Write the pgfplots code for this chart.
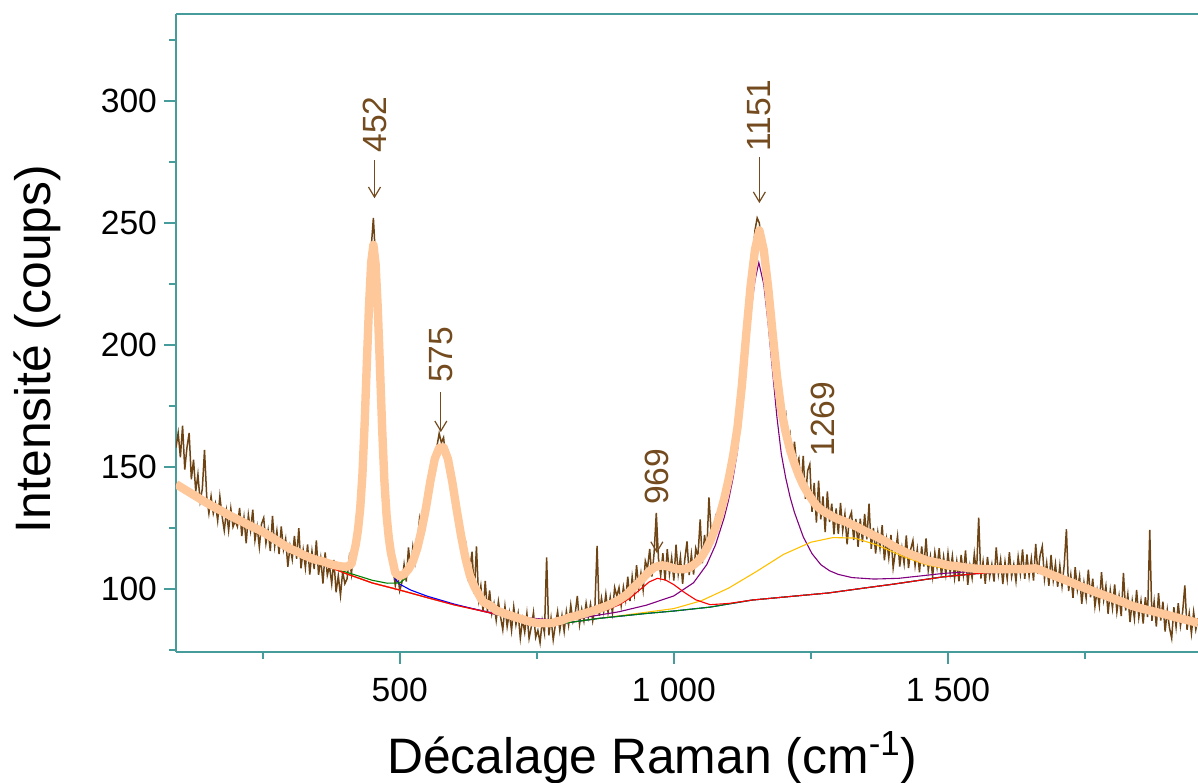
\documentclass[border=0pt]{standalone}
\usepackage{pgfplots}
\pgfplotsset{compat=1.18}
\usepackage{pgfplotstable}
\usepackage{fontspec}
\setmainfont{Liberation Sans}
\usetikzlibrary{arrows.meta}
\definecolor{spine}{RGB}{70,155,155}
\definecolor{databrown}{RGB}{110,68,20}
\definecolor{fitpeach}{RGB}{255,200,155}
\definecolor{annot}{RGB}{115,75,30}
\definecolor{cgreen}{RGB}{0,128,0}
\definecolor{cblue}{RGB}{0,0,255}
\definecolor{cred}{RGB}{255,0,0}
\definecolor{cpurple}{RGB}{128,0,128}
\definecolor{cyellow}{RGB}{255,192,0}

\pgfplotstableread{
x y
92 158
96 164
100 154
104 167
108 149
112 158
116 164
120 145
124 153
128 140
132 147
136 136
140 141
144 157
148 138
152 131
156 138
160 131
164 135
168 128
172 138
176 130
180 124
184 132
188 124
192 133
196 125.5
200 128
204 125.6
208 133.2
212 121.7
216 129.3
220 118.8
224 130.4
228 123.9
232 132.5
236 120.0
240 125.6
244 117.2
248 126.7
252 129.2
256 118.7
260 124.1
264 115.6
268 130.0
272 117.5
276 123.9
280 114.3
284 125.7
288 116.2
292 120.6
296 109.1
300 117.5
304 112.2
308 121.8
312 112.4
316 125.0
320 108.5
324 116.0
328 108.7
332 118.3
336 105.9
340 115.5
344 108.2
348 119.9
352 105.8
356 112.6
360 102.3
364 115.0
368 105.7
372 109.4
376 102.2
380 111.9
384 98.7
388 105.5
392 97.4
396 107.2
400 102.2
404 104.2
408 112.7
412 106.2
416 116.3
420 115.4
424 128.4
428 131.1
432 151.8
436 164.5
440 196.3
444 214.0
448 239.8
452 252.1
456 235.3
460 212.1
464 194.0
468 163.8
472 148.6
476 127.4
480 123.2
484 108.8
488 107.8
492 101.5
496 106.9
500 99.3
504 102.7
508 110.1
512 103.1
516 117.1
520 107.7
524 117.3
528 111.0
532 118.7
536 128.5
540 122.2
544 131.8
548 130.4
552 140.9
556 142.3
560 151.9
564 151.4
568 158.6
572 163.8
576 160.0
580 162.1
584 153.7
588 155.3
592 145.6
596 146.8
600 136.1
604 136.4
608 124.1
612 127.8
616 120.2
620 119.6
624 105.1
628 108.5
632 115.3
636 98.1
640 117.5
644 95.8
648 101.3
652 90.7
656 103.3
660 90.8
664 99.4
668 89.9
672 94.1
676 87.2
680 94.9
684 88.6
688 83.3
692 92.9
696 84.6
700 90.3
704 83.0
708 92.7
712 85.4
716 90.1
720 79.9
724 87.6
728 82.3
732 90.0
736 79.8
740 84.5
744 90.4
748 80.2
752 83.1
756 78.0
760 87.0
764 82.0
768 113.0
772 81.0
776 88.1
780 79.2
784 85.5
788 90.8
792 83.0
796 89.2
800 82.6
804 90.9
808 85.2
812 93.5
816 86.7
820 89.9
824 97.2
828 85.5
832 91.7
836 86.9
840 94.2
844 88.5
848 93.8
852 87.0
856 92.4
860 117.7
864 89.0
868 96.3
872 90.7
876 98.0
880 90.4
884 96.7
888 90.2
892 100.6
896 97.1
900 100.6
904 93.2
908 100.8
912 95.5
916 105.1
920 95.1
924 105.1
928 98.0
932 109.8
936 100.7
940 106.6
944 99.6
948 111.5
952 108.5
956 116.4
960 105.1
964 114.8
968 131.2
972 112.5
976 105.6
980 114.7
984 103.5
988 116.3
992 106.1
996 112.8
1000 103.5
1004 118.2
1008 106.2
1012 113.1
1016 102.2
1020 112.2
1024 119.5
1028 105.7
1032 114.3
1036 105.9
1040 116.7
1044 113.4
1048 128.5
1052 110.6
1056 122.2
1060 114.7
1064 137.6
1068 123.5
1072 120.8
1076 129.1
1080 124.8
1084 133.5
1088 131.8
1092 141.1
1096 138.1
1100 148.1
1104 147.8
1108 157.5
1112 157.3
1116 170.1
1120 172.7
1124 186.2
1128 190.8
1132 208.4
1136 212.3
1140 227.2
1144 235.7
1148 247.1
1152 252.1
1156 250.0
1160 241.0
1164 241.9
1168 228.3
1172 226.7
1176 212.5
1180 209.2
1184 193.3
1188 192.4
1192 178.3
1196 179.2
1200 170.8
1204 172.3
1208 157.7
1212 163.0
1216 150.2
1220 160.4
1224 151.0
1228 153.6
1232 141.6
1236 154.6
1240 137.0
1244 148.4
1248 151.1
1252 131.7
1256 143.5
1260 127.2
1264 144.4
1268 128.6
1272 138.0
1276 123.4
1280 140.0
1284 127.5
1288 135.0
1292 122.4
1296 133.0
1300 122.6
1304 135.3
1308 124.0
1312 130.7
1316 118.3
1320 128.9
1324 131.5
1328 120.1
1332 128.7
1336 117.3
1340 128.8
1344 119.3
1348 130.8
1352 120.4
1356 135.0
1360 116.5
1364 125.0
1368 114.6
1372 123.2
1376 116.7
1380 126.2
1384 111.8
1388 120.3
1392 112.8
1396 122.2
1400 108.7
1404 115.2
1408 121.7
1412 109.2
1416 116.8
1420 110.4
1424 122.0
1428 108.6
1432 116.3
1436 119.9
1440 109.6
1444 116.3
1448 106.9
1452 117.5
1456 109.2
1460 120.8
1464 107.6
1468 113.4
1472 105.2
1476 115.0
1480 108.9
1484 116.7
1488 105.5
1492 113.2
1496 106.0
1500 114.7
1504 106.6
1508 113.5
1512 104.5
1516 111.4
1520 103.2
1524 114.0
1528 105.9
1532 115.8
1536 101.7
1540 109.6
1544 104.5
1548 114.4
1552 106.4
1556 129.3
1560 104.3
1564 111.2
1568 102.2
1572 113.2
1576 105.1
1580 110.1
1584 103.1
1588 117.1
1592 106.1
1596 112.1
1600 102.1
1604 111.1
1608 104.1
1612 115.1
1616 105.1
1620 110.1
1624 103.2
1628 113.2
1632 106.2
1636 116.2
1640 104.2
1644 114.2
1648 105.3
1652 112.4
1656 103.5
1660 118.5
1664 106.2
1668 113.8
1672 117.5
1676 104.1
1680 110.7
1684 101.3
1688 114.0
1692 103.6
1696 110.3
1700 100.9
1704 109.6
1708 101.2
1712 109.9
1716 124.5
1720 99.2
1724 105.8
1728 96.4
1732 109.0
1736 99.7
1740 105.3
1744 94.0
1748 102.6
1752 96.3
1756 107.9
1760 96.6
1764 104.2
1768 92.9
1772 99.5
1776 93.2
1780 106.9
1784 95.6
1788 101.2
1792 89.9
1796 99.5
1800 92.2
1804 101.9
1808 90.6
1812 97.2
1816 88.9
1820 106.6
1824 91.2
1828 97.8
1832 86.5
1836 95.1
1840 87.9
1844 99.6
1848 88.4
1852 95.1
1856 85.9
1860 96.7
1864 88.5
1868 124.2
1872 87.0
1876 94.8
1880 84.6
1884 98.3
1888 87.1
1892 94.8
1896 82.6
1900 91.4
1904 84.1
1908 79.8
1912 92.6
1916 84.4
1920 94.2
1924 84.9
1928 90.7
1932 101.5
1936 83.3
1940 90.0
1944 81.8
1948 90.6
1952 83.4
1956 88.1
}\rawdata

\pgfplotstableread{
x y
92 143.0
100 141.9
108 140.8
116 139.7
124 138.6
132 137.5
140 136.4
148 135.3
156 134.3
164 133.3
172 132.4
180 131.4
188 130.4
196 129.5
204 128.6
212 127.7
220 126.8
228 125.9
236 125.0
244 124.2
252 123.2
260 122.1
268 121.0
276 119.9
284 118.7
292 117.6
300 116.5
308 115.8
316 115.0
324 114.0
332 113.3
340 112.5
348 111.9
356 111.6
364 111.0
372 110.4
380 109.9
388 109.5
396 109.2
404 109.2
412 110.2
416 114.3
420 118.4
424 124.4
428 133.1
432 146.8
436 167.5
440 192.3
444 216.0
448 233.8
452 241.1
456 233.3
460 215.1
464 191.0
468 165.8
472 144.6
476 130.4
480 121.2
484 114.8
488 110.8
492 106.5
500 105.3
508 106.1
516 108.1
524 111.3
532 116.7
540 124.2
548 133.4
556 144.3
564 153.4
572 157.8
580 158.1
588 153.3
596 143.8
604 132.4
612 121.8
620 112.6
628 105.5
636 101.1
644 97.8
652 94.7
660 93.8
668 92.9
676 91.2
684 90.6
692 89.9
700 89.3
708 88.7
716 88.1
724 87.6
732 87.0
740 86.5
748 86.2
756 86.0
764 86.0
772 86.0
780 86.2
788 86.8
796 87.2
804 87.9
812 88.5
820 88.9
828 89.5
836 89.9
844 90.5
852 91.0
860 91.7
868 92.3
876 93.0
884 93.7
892 94.6
900 95.6
908 96.8
916 98.1
924 100.1
932 101.8
940 103.6
948 105.5
956 107.4
964 108.8
972 109.5
980 109.7
988 109.3
996 108.8
1004 108.2
1012 108.1
1020 108.2
1028 108.7
1036 109.9
1044 111.4
1052 113.6
1060 116.7
1068 120.5
1076 125.1
1084 130.5
1092 137.1
1100 145.1
1108 154.5
1116 166.1
1124 183.2
1132 204.4
1140 224.2
1148 239.1
1152 243.1
1156 247.0
1160 243.0
1164 238.9
1172 223.7
1180 205.2
1188 187.4
1196 173.2
1204 164.3
1212 157.0
1220 151.4
1228 146.6
1236 142.6
1244 139.4
1252 136.7
1260 134.2
1268 132.6
1276 131.4
1284 130.5
1292 129.4
1300 128.6
1308 128.0
1316 127.3
1324 126.5
1332 125.7
1340 124.8
1348 123.8
1356 123.0
1364 122.0
1372 121.2
1380 120.2
1388 119.3
1396 118.2
1404 117.2
1412 116.2
1420 115.4
1428 114.6
1436 113.9
1444 113.3
1452 112.5
1460 111.8
1468 111.4
1476 111.0
1484 110.7
1492 110.2
1500 109.7
1516 109.4
1532 108.8
1548 108.4
1564 108.2
1580 108.1
1600 108.1
1620 108.1
1640 108.2
1660 108.5
1676 107.1
1692 105.6
1708 104.2
1724 102.8
1740 101.3
1756 99.9
1772 98.5
1788 97.2
1804 95.9
1820 94.6
1836 93.1
1852 92.1
1868 91.2
1884 90.3
1900 89.4
1916 88.4
1932 87.5
1948 86.6
1956 86.1
}\fitdata

\pgfplotstableread{
x y
92 143
150 135
200 129
250 123.5
300 116.5
350 111.5
380 109.3
400 108.3
412 109.5
420 117.7
428 132.3
436 166.6
444 215
448 232.7
452 240
456 232.1
460 213.9
468 164.5
476 129
484 113.3
492 104.1
500 102
520 99.6
550 97.1
600 93.8
650 91
700 88.3
750 85.5
770 85.2
800 86
864 88
950 90
1000 91
1066 92.6
1143 95.5
1200 96.7
1282 98.4
1350 100.5
1400 102
1491 105
1550 106.3
1631 107.5
1660 108
1700 104.5
1770 98.4
1840 92.6
1956 86
}\compblue

\pgfplotstableread{
x y
92 143
150 135
200 129
250 123.5
300 116.5
350 111
400 107.1
450 103.6
477 102.4
500 102.5
508 103.9
516 106.2
524 109.6
532 115.1
540 122.7
548 132
556 143
564 152.2
572 156.7
580 157
588 152.3
596 142.8
604 131.5
612 120.9
620 111.8
628 104.6
636 100.2
644 97
652 93.9
677 91.5
700 89.6
750 85.9
770 85.2
800 86
864 88
950 90
1000 91
1066 92.6
1143 95.5
1200 96.7
1282 98.4
1350 100.5
1400 102
1491 105
1550 106.3
1631 107.5
1660 108
1700 104.5
1770 98.4
1840 92.6
1956 86
}\compgreen

\pgfplotstableread{
x y
92 143
150 135
200 129
250 123.5
300 116.5
350 111
400 106.5
450 102.5
500 99.6
550 96.5
600 93.5
650 91
700 88.5
750 85.9
800 87
850 89.6
880 91.7
900 93.5
920 96.3
940 100.1
955 102.9
970 104.4
985 103.7
1000 101.8
1020 98.5
1040 95.6
1066 93.6
1100 94.1
1143 95.5
1200 96.7
1282 98.4
1350 100.5
1400 102
1491 105
1550 106.3
1631 107.5
1660 108
1700 104.5
1770 98.4
1840 92.6
1956 86
}\compred

\pgfplotstableread{
x y
92 143
150 135
200 129
250 123.5
300 116.5
350 111
400 106.5
450 102.5
500 99.6
550 96.5
600 93.5
650 91.2
700 88.8
800 87
900 90.7
950 93.4
1000 97.2
1036 102.6
1060 110
1076 118.1
1092 129.4
1100 136.7
1108 145.5
1116 156.5
1124 172.8
1132 193.3
1140 212.4
1148 226.6
1155 233.8
1164 224.9
1172 208.7
1180 189.3
1188 170.5
1196 155.4
1204 145.6
1212 137.7
1220 131.4
1236 121.4
1252 114.5
1268 110
1284 107.5
1300 106
1325 104.7
1365 104.1
1410 104.4
1491 106.4
1550 107.3
1631 108.1
1660 108.5
1700 104.9
1770 98.8
1840 92.8
1956 86.1
}\comppurple

\pgfplotstableread{
x y
92 143
150 135
200 129
250 123.5
300 116.5
350 111
400 106.5
450 102.5
500 99.6
550 96.5
600 93.5
650 91
700 88.3
750 85.5
770 85.2
800 86
864 88
900 89
950 90.5
1000 92
1050 95.2
1100 100.4
1150 107.1
1200 114.2
1250 119.2
1290 121.1
1330 120.9
1370 118.1
1420 113.2
1460 110
1500 108.2
1550 107.3
1600 107.3
1631 107.5
1660 108
1700 104.5
1770 98.4
1840 92.6
1956 86
}\compyellow

\begin{document}
\begin{tikzpicture}
\begin{axis}[
  scale only axis, width=511pt, height=319pt,
  xmin=92, xmax=1956, ymin=74.2, ymax=335.7,
  axis x line*=box, axis y line*=left,
  axis line style={spine, line width=1pt},
  tick align=outside, xtick pos=left, ytick pos=left,
  major tick length=6pt, minor tick length=3.5pt,
  tick style={spine, line width=0.9pt},
  xtick={500,1000,1500}, xticklabels={500,1 000,1 500},
  minor xtick={250,750,1250,1750},
  ytick={100,150,200,250,300}, yticklabels={100,150,200,250,300},
  minor ytick={75,125,175,225,275,325},
  tick label style={font=\fontsize{16.8}{20}\selectfont, text=black},
  xticklabel style={yshift=-3.4pt},
  label style={font=\fontsize{24.9}{30}\selectfont},
  xlabel={Décalage Raman (cm\textsuperscript{-1})},
  ylabel={Intensité (coups)},
  xlabel style={at={(axis description cs:0.466,-0.166)}, anchor=center},
  ylabel style={at={(axis description cs:-0.136,0.475)}, anchor=center},
]
\addplot[databrown, line width=0.75pt, mark=none] table {\rawdata};
\addplot[cpurple, line width=0.55pt, mark=none] table {\comppurple};
\addplot[cyellow, line width=0.55pt, mark=none] table {\compyellow};
\addplot[cblue, line width=0.55pt, mark=none] table {\compblue};
\addplot[cgreen, line width=0.55pt, mark=none] table {\compgreen};
\addplot[cred, line width=0.55pt, mark=none] table {\compred};
\addplot[fitpeach, line width=4.2pt, line join=round, mark=none] table {\fitdata};

\node[annot, rotate=90, anchor=west, inner sep=0pt, font=\fontsize{16.8}{20}\selectfont] at (axis cs:454,278.7) {452};
\draw[annot, line width=0.6pt, -{Straight Barb[length=5pt,width=6pt]}] (axis cs:454,275.8) -- (axis cs:454,260.2);
\node[annot, rotate=90, anchor=west, inner sep=0pt, font=\fontsize{16.8}{20}\selectfont] at (axis cs:575,184.4) {575};
\draw[annot, line width=0.6pt, -{Straight Barb[length=5pt,width=6pt]}] (axis cs:575,180.7) -- (axis cs:575,164.3);
\node[annot, rotate=90, anchor=west, inner sep=0pt, font=\fontsize{16.8}{20}\selectfont] at (axis cs:969,134.4) {969};
\draw[annot, line width=0.6pt, -{Straight Barb[length=5pt,width=6pt]}] (axis cs:969,131.1) -- (axis cs:969,114.8);
\node[annot, rotate=90, anchor=west, inner sep=0pt, font=\fontsize{16.8}{20}\selectfont] at (axis cs:1156,279.1) {1151};
\draw[annot, line width=0.6pt, -{Straight Barb[length=5pt,width=6pt]}] (axis cs:1156,277) -- (axis cs:1156,258.2);
\node[annot, rotate=90, anchor=west, inner sep=0pt, font=\fontsize{16.8}{20}\selectfont] at (axis cs:1272,154.1) {1269};
\end{axis}
\pgfresetboundingbox
\useasboundingbox (-88pt,-65pt) rectangle (511pt,326pt);
\end{tikzpicture}
\end{document}
